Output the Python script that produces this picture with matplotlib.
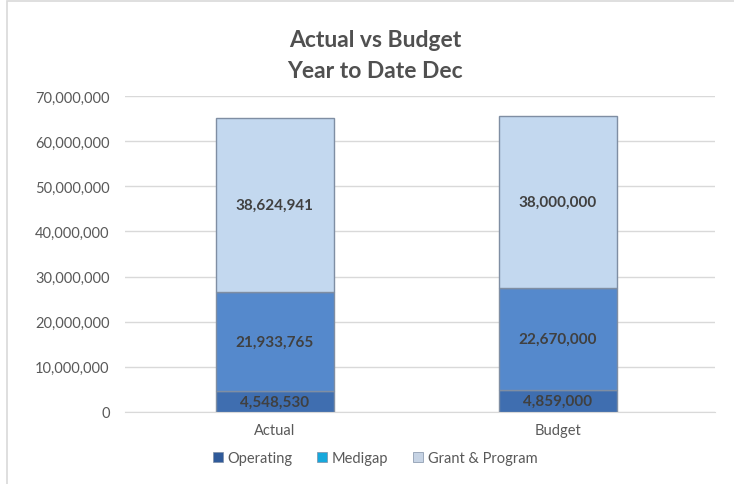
import numpy as np
import matplotlib.pyplot as plt
from matplotlib.patches import Patch, Rectangle

plt.rcParams['font.family'] = ['Lato', 'DejaVu Sans']

# data
categories = ['Actual', 'Budget']
operating = [4548530, 4859000]
medigap = [21933765, 22670000]
grant = [38624941, 38000000]
series_names = ['Operating', 'Medigap', 'Grant & Program']

bar_colors = ['#3f6eb0', '#5589cc', '#c3d8ef']
legend_colors = ['#2f5a9a', '#16a8dc', '#c6d3e4']

fig = plt.figure(figsize=(7.34, 4.85), dpi=100)
ax = fig.add_axes([0.170, 0.1485, 0.804, 0.6515])

x = np.arange(len(categories))
w = 0.417
bottom = np.zeros(len(categories))
for vals, col in zip([operating, medigap, grant], bar_colors):
    vals = np.array(vals, dtype=float)
    ax.bar(x, vals, w, bottom=bottom, color=col, edgecolor='#7f8ea3',
           linewidth=1.0, zorder=3)
    for xi, b, v in zip(x, bottom, vals):
        ax.text(xi, b + v / 2, f'{int(v):,}', ha='center', va='center',
                fontsize=11, fontweight='bold', color='#404040', zorder=4)
    bottom += vals

ax.set_ylim(0, 70000000)
ax.set_xlim(-0.53, 1.555)
ax.set_yticks(np.arange(0, 70000001, 10000000))
ax.yaxis.set_major_formatter(plt.FuncFormatter(lambda v, p: f'{int(v):,}'))
ax.grid(axis='y', color='#d9d9d9', linewidth=1, zorder=0)
ax.set_xticks(x)
ax.set_xticklabels(categories)
ax.tick_params(axis='both', length=0, labelsize=10.5, colors='#595959', pad=8)
ax.tick_params(axis='y', pad=11)
for s in ax.spines.values():
    s.set_visible(False)
ax.spines['bottom'].set_visible(True)
ax.spines['bottom'].set_color('#d9d9d9')

fig.text(0.511, 0.885, 'Actual vs Budget\nYear to Date Dec', ha='center',
         va='center', fontsize=16.5, fontweight='bold', color='#505050',
         linespacing=1.6)

handles = [Patch(facecolor=c, edgecolor='#7f8fa6', linewidth=0.5) for c in legend_colors]
fig.legend(handles, series_names, loc='center', bbox_to_anchor=(0.511, 0.053),
           ncol=3, frameon=False, fontsize=10.5, handlelength=0.7,
           handleheight=0.7, handletextpad=0.3, columnspacing=1.7,
           labelcolor='#595959')

fig.patches.append(Rectangle((7 / 734, -0.1), 1.2, 1.1 - 2 / 485,
                             transform=fig.transFigure, fill=False,
                             edgecolor='#d9d9d9', linewidth=1.2))

fig.savefig('out.png', dpi=100)
